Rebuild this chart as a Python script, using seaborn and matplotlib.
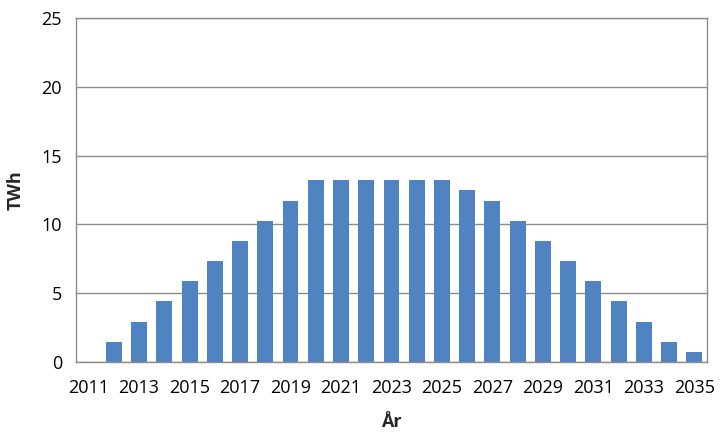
import numpy as np
import pandas as pd
import matplotlib
matplotlib.use("Agg")
import matplotlib.pyplot as plt
import seaborn as sns

years = list(range(2011, 2036))
twh = [0.0, 1.47, 2.93, 4.4, 5.87, 7.33, 8.8, 10.27, 11.73,
       13.2, 13.2, 13.2, 13.2, 13.2, 13.2,
       12.47, 11.73, 10.27, 8.8, 7.33, 5.87, 4.4, 2.93, 1.47, 0.73]
tick_years = [str(y) if (y - 2011) % 2 == 0 else "" for y in years]

df = pd.DataFrame({"year": [str(y) for y in years], "twh": twh})

sns.set_theme(style="white")
plt.rcParams['font.family'] = ['Open Sans', 'DejaVu Sans']

fig = plt.figure(figsize=(7.28, 4.33), dpi=100)
ax = fig.add_axes([0.1044, 0.164, 0.8667, 0.794])

sns.barplot(data=df, x="year", y="twh", color="#5083C1", saturation=1,
            width=0.63, linewidth=0, ax=ax)

ax.set_ylim(0, 25)
ax.set_yticks([0, 5, 10, 15, 20, 25])
ax.set_xticks(range(len(years)))
ax.set_xticklabels(tick_years)
ax.yaxis.grid(True, color="#8C8C8C", linewidth=1)
ax.set_axisbelow(True)
for s in ax.spines.values():
    s.set_color("#8C8C8C")
    s.set_linewidth(1)
ax.tick_params(axis="both", labelsize=13, colors="#000000", length=0)
ax.tick_params(axis="x", pad=12)
ax.tick_params(axis="y", pad=10)
ax.set_xlabel("År", fontsize=13, fontweight="bold", labelpad=12)
ax.set_ylabel("TWh", fontsize=13, fontweight="bold", labelpad=12)

fig.savefig("out.png", dpi=100)
